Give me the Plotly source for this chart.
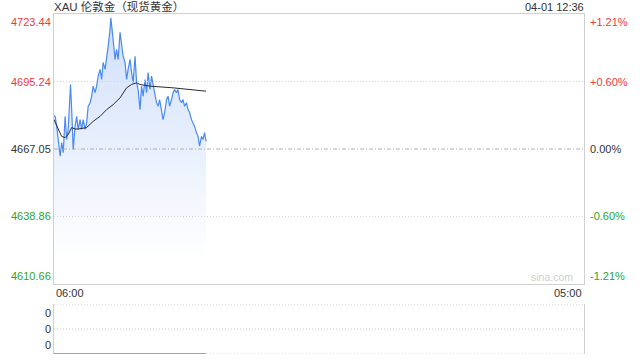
import plotly.graph_objects as go
import pandas as pd

# ---------------- data ----------------
title_text = "XAU 伦敦金（现货黄金）"
stamp_text = "04-01 12:36"
session_start = "2025-04-01 06:00"
session_end = "2025-04-02 05:00"
prev_close = 4667.05
price_ticks = [4723.44, 4695.24, 4667.05, 4638.86, 4610.66]
pct_labels = ["+1.21%", "+0.60%", "0.00%", "-0.60%", "-1.21%"]
time_labels = ["06:00", "05:00"]
vol_labels = ["0", "0", "0"]
watermark = "sina.com"

# minutes after 06:00 and price
price_min = [0, 3, 7, 11, 16, 20, 24, 29, 33, 37, 42, 43, 46, 50, 55, 59, 63, 68, 72, 76,
             81, 85, 89, 94, 98, 102, 107, 111, 115, 120, 124, 128, 133, 137, 141, 146, 148,
             153, 156, 159, 163, 167, 172, 176, 180, 185, 189, 193, 198, 202, 206, 211, 215,
             219, 224, 228, 232, 237, 241, 245, 250, 254, 258, 262, 267, 271, 275, 280, 284,
             288, 293, 297, 301, 306, 310, 314, 319, 323, 327, 332, 336, 340, 345, 349, 353,
             358, 362, 366, 371, 375, 379, 384, 388, 392, 396]
price_val = [4681.0, 4680.7, 4676.5, 4671.0, 4664.0, 4669.7, 4665.5, 4680.7, 4671.0, 4675.2,
             4691.9, 4694.0, 4683.5, 4666.8, 4676.5, 4680.7, 4675.2, 4679.3, 4675.2, 4679.3,
             4675.2, 4678.1, 4684.9, 4686.4, 4689.1, 4693.3, 4690.6, 4693.3, 4697.5, 4700.3,
             4696.1, 4703.2, 4700.3, 4704.5, 4710.0, 4717.0, 4721.9, 4714.2, 4707.4, 4704.5,
             4708.7, 4704.5, 4715.8, 4710.0, 4705.8, 4703.2, 4696.1, 4700.3, 4704.5, 4699.0,
             4694.8, 4705.8, 4694.8, 4691.9, 4683.5, 4693.3, 4689.1, 4696.1, 4690.6, 4699.0,
             4691.9, 4697.5, 4693.3, 4690.6, 4686.4, 4684.9, 4687.7, 4683.5, 4679.3, 4682.3,
             4687.7, 4689.1, 4684.9, 4687.7, 4690.6, 4691.9, 4690.6, 4691.9, 4687.7, 4686.4,
             4687.7, 4684.9, 4686.4, 4683.5, 4682.3, 4679.3, 4678.1, 4676.5, 4673.9, 4672.3,
             4668.2, 4672.3, 4671.0, 4673.9, 4670.2]

avg_min = [0, 11, 20, 29, 37, 46, 55, 63, 85, 102, 120, 137, 154, 172, 189, 202, 215, 224,
           250, 310, 353, 396]
avg_val = [4679.3, 4675.2, 4672.3, 4671.8, 4673.1, 4676.0, 4675.4, 4675.4, 4676.0, 4678.6,
           4680.7, 4683.5, 4685.6, 4688.4, 4692.6, 4694.0, 4694.7, 4694.0, 4693.3, 4692.6,
           4691.9, 4691.2]

vol_min = [0, 396]
vol_val = [0, 0]

# ---------------- styles ----------------
RED = "#f23a3a"
GREEN = "#2aa52a"
DARK = "#333333"
BORDER = "#d0d0d0"
LINE_BLUE = "#4a8af2"
FONT = "Liberation Sans, Arial, Noto Sans CJK SC, sans-serif"

base = pd.Timestamp(session_start)
t_price = base + pd.to_timedelta(price_min, unit="min")
t_avg = base + pd.to_timedelta(avg_min, unit="min")
t_vol = base + pd.to_timedelta(vol_min, unit="min")

y_lo, y_hi = min(price_ticks), max(price_ticks)

fig = go.Figure()

# baseline for gradient fill
fig.add_trace(go.Scatter(x=t_price, y=[y_lo] * len(t_price), mode="lines",
                         line=dict(width=0), hoverinfo="skip", showlegend=False,
                         xaxis="x", yaxis="y"))
fig.add_trace(go.Scatter(
    x=t_price, y=price_val, mode="lines",
    line=dict(color=LINE_BLUE, width=1.2),
    fill="tonexty",
    fillgradient=dict(type="vertical",
                      colorscale=[[0, "rgba(255,255,255,1)"], [1, "rgb(206,222,250)"]],
                      start=4621, stop=y_hi),
    showlegend=False, xaxis="x", yaxis="y"))
fig.add_trace(go.Scatter(x=t_avg, y=avg_val, mode="lines",
                         line=dict(color="#2b2b2b", width=1), showlegend=False,
                         xaxis="x", yaxis="y"))
fig.add_trace(go.Scatter(x=t_vol, y=vol_val, mode="lines",
                         line=dict(color="#8a8a8a", width=1.5), showlegend=False,
                         xaxis="x2", yaxis="y2"))

main_dom = [70 / 340, 1.0]
vol_dom = [0.0, 50 / 340]

annotations = []
shapes = []

for p, pl in zip(price_ticks, pct_labels):
    col = RED if p > prev_close else (GREEN if p < prev_close else DARK)
    if p == y_hi:
        ya = "top"
    elif p == y_lo:
        ya = "bottom"
    else:
        ya = "middle"
    annotations.append(dict(x=0, xref="paper", y=p, yref="y", text=f"{p:.2f}",
                            xanchor="right", yanchor=ya, xshift=-1,
                            showarrow=False, font=dict(size=11, color=col)))
    annotations.append(dict(x=1, xref="paper", y=p, yref="y", text=pl,
                            xanchor="left", yanchor=ya, xshift=4,
                            showarrow=False, font=dict(size=11, color=col)))
    if y_lo < p < y_hi:
        if p == prev_close:
            shapes.append(dict(type="line", xref="x domain", yref="y", x0=0, x1=1,
                               y0=p, y1=p,
                               line=dict(color="#b0b0b0", width=1, dash="4px,2px,1px,2px")))
        else:
            shapes.append(dict(type="line", xref="x domain", yref="y", x0=0, x1=1,
                               y0=p, y1=p,
                               line=dict(color="#d6d6d6", width=1, dash="1px,2px")))

# title and time stamp
annotations.append(dict(x=0, xref="paper", y=1, yref="paper", text=title_text,
                        xanchor="left", yanchor="bottom", xshift=-2, yshift=-1,
                        showarrow=False, font=dict(size=11.5, color=DARK)))
annotations.append(dict(x=1, xref="paper", y=1, yref="paper", text=stamp_text,
                        xanchor="right", yanchor="bottom", xshift=2, yshift=-1,
                        showarrow=False, font=dict(size=11, color=DARK)))

# time labels
annotations.append(dict(x=session_start, xref="x", y=main_dom[0], yref="paper",
                        text=time_labels[0], xanchor="left", yanchor="top", yshift=-1,
                        showarrow=False, font=dict(size=11, color=DARK)))
annotations.append(dict(x=session_end, xref="x", y=main_dom[0], yref="paper",
                        text=time_labels[1], xanchor="right", yanchor="top", yshift=-1,
                        showarrow=False, font=dict(size=11, color=DARK)))

# watermark
annotations.append(dict(x=1, xref="paper", y=y_lo, yref="y", text=watermark,
                        xanchor="right", yanchor="bottom", xshift=-9, yshift=-1,
                        showarrow=False, font=dict(size=10.5, color="#cfcfcf")))

# volume panel labels and lines
vol_levels = [1, 0.5, 0]
for v, lab in zip(vol_levels, vol_labels):
    ya = "top" if v == 1 else ("bottom" if v == 0 else "middle")
    annotations.append(dict(x=0, xref="paper", y=v, yref="y2", text=lab,
                            xanchor="right", yanchor=ya, xshift=-1,
                            yshift=(-1 if v == 1 else (1 if v == 0 else 0)),
                            showarrow=False, font=dict(size=11, color=DARK)))
    shapes.append(dict(type="line", xref="x2 domain", yref="y2", x0=0, x1=1, y0=v, y1=v,
                       line=dict(color="#c4c4c4", width=1, dash="1px,2px"), layer="below"))

fig.update_layout(
    width=640, height=360,
    margin=dict(l=54, r=56, t=14, b=6),
    paper_bgcolor="white", plot_bgcolor="white",
    font=dict(family=FONT, size=11, color=DARK),
    showlegend=False,
    xaxis=dict(domain=[0, 1], range=[session_start, session_end], type="date",
               showticklabels=False, showgrid=False, zeroline=False, ticks="",
               showline=True, linecolor=BORDER, linewidth=1, mirror=True,
               anchor="y"),
    yaxis=dict(domain=main_dom, range=[y_lo, y_hi], showticklabels=False,
               showgrid=False, zeroline=False, ticks="",
               showline=True, linecolor=BORDER, linewidth=1, mirror=True,
               anchor="x"),
    xaxis2=dict(domain=[0, 1], range=[session_start, session_end], type="date",
                showticklabels=False, showgrid=False, zeroline=False, ticks="",
                showline=False, anchor="y2", matches="x"),
    yaxis2=dict(domain=vol_dom, range=[0, 1], showticklabels=False, showgrid=False,
                zeroline=False, ticks="", showline=True, linecolor=BORDER,
                linewidth=1, mirror=True, anchor="x2"),
    annotations=annotations,
    shapes=shapes,
    hovermode=False,
)

fig.write_html("out.html")
